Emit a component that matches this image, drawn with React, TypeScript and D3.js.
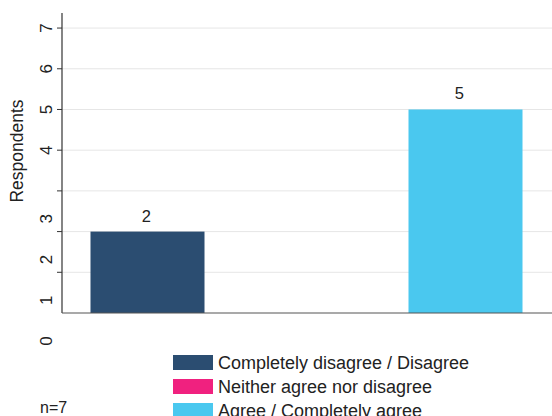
import React from "react";
import * as d3 from "d3";

const categories = ["Completely disagree / Disagree", "Neither agree nor disagree", "Agree / Completely agree"];
const values = [2, 0, 5];
const colors = ["#2b4d71", "#f0217f", "#4ac8ef"];
const tickValues = [0, 1, 2, 3, 4, 5, 6, 7];
const sampleNote = "n=7";
const axisTitle = "Respondents";

export default function App() {
  const W = 552, H = 416;
  const left = 62, right = 552, top = 13, bottom = 313;
  const y = d3.scaleLinear().domain([0, 7.37]).range([bottom, top]);
  const x = d3.scaleBand<string>().domain(categories).range([68, 545]).paddingInner(0.283).paddingOuter(0.1415);
  const xLabel = d3.scaleBand<string>().domain(categories).range([68, 537.5]);
  const font = "'Liberation Sans', Arial, sans-serif";
  // labels as rendered in reference: lower value labels sit shifted below their ticks
  const labelPos = (v: number) => (v >= 4 ? y(v) : y(v) + 28);
  return (
    <svg width={W} height={H} style={{ position: "absolute", left: 0, top: 0, background: "#fff" }} fontFamily={font}>
      {tickValues.slice(1).map((v) => (
        <line key={"g" + v} x1={left} x2={right} y1={y(v)} y2={y(v)} stroke="#e6e6e6" strokeWidth={1} />
      ))}
      {tickValues.slice(1).map((v) => (
        <line key={"t" + v} x1={left - 5} x2={left} y1={y(v)} y2={y(v)} stroke="#333" strokeWidth={1} />
      ))}
      {tickValues.map((v) => (
        <text key={"l" + v} transform={`translate(46,${labelPos(v)}) rotate(-90)`} textAnchor="middle" dy="0.35em" fontSize={17} fill="#222">
          {String(v)}
        </text>
      ))}
      <text transform={`translate(23,151) rotate(-90)`} textAnchor="middle" fontSize={17.5} fill="#222">{axisTitle}</text>
      {categories.map((c, i) =>
        values[i] > 0 ? (
          <g key={c}>
            <rect x={x(c)} y={y(values[i])} width={x.bandwidth()} height={y(0) - y(values[i])} fill={colors[i]} />
            <text x={(xLabel(c) as number) + xLabel.bandwidth() / 2} y={y(values[i]) - 10} textAnchor="middle" fontSize={16.5} fill="#222">
              {values[i]}
            </text>
          </g>
        ) : null
      )}
      <line x1={left} x2={left} y1={top} y2={bottom} stroke="#333" strokeWidth={1.2} />
      <line x1={left} x2={right} y1={bottom} y2={bottom} stroke="#555" strokeWidth={1.2} />
      {categories.map((c, i) => (
        <g key={"lg" + i} transform={`translate(173,${355 + i * 24})`}>
          <rect x={0} y={0} width={40} height={15} fill={colors[i]} />
          <text x={45} y={14} fontSize={18} fill="#222">{c}</text>
        </g>
      ))}
      <text x={40} y={413} fontSize={16} fill="#222">{sampleNote}</text>
    </svg>
  );
}
